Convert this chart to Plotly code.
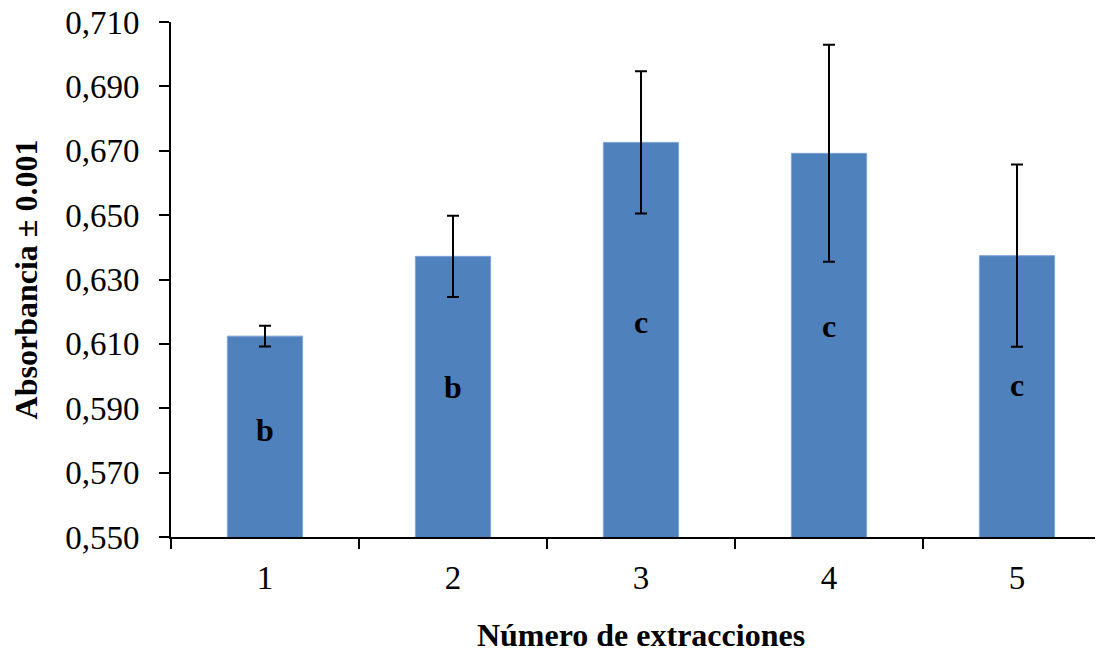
import plotly.graph_objects as go

categories = ["1", "2", "3", "4", "5"]
absorbance = [0.6124, 0.6372, 0.6726, 0.6692, 0.6374]
errors = [0.0032, 0.0126, 0.0221, 0.0337, 0.0283]
letters = ["b", "b", "c", "c", "c"]
letter_y = [0.5833, 0.5966, 0.6168, 0.6156, 0.5972]

xpos = list(range(len(categories)))

fig = go.Figure()
fig.add_trace(go.Bar(
    x=xpos, y=absorbance, width=0.4,
    marker=dict(color="#4F81BD", line=dict(color="#7FA3D6", width=1)),
    error_y=dict(type="data", array=errors, visible=True, color="black",
                 thickness=2, width=6),
    showlegend=False,
))

serif = "Liberation Serif"
for x, y, t in zip(xpos, letter_y, letters):
    fig.add_annotation(x=x, y=y, text=f"<b>{t}</b>", showarrow=False,
                       font=dict(family=serif, size=32, color="black"),
                       xref="x", yref="y")

fig.update_layout(
    width=1103, height=662,
    margin=dict(l=163, r=0, t=14, b=133),
    plot_bgcolor="white", paper_bgcolor="white",
    separators=", ",
    font=dict(family=serif, color="black"),
    xaxis=dict(
        range=[-0.5, 4.5], automargin=False,
        tickmode="array", tickvals=xpos, ticktext=categories,
        ticks="outside", ticklen=0, ticklabelstandoff=10,
        ticklabeloverflow="allow",
        tickfont=dict(family=serif, size=33),
        showline=True, linecolor="black", linewidth=2,
        showgrid=False, zeroline=False,
        minor=dict(ticks="outside", ticklen=10, tickwidth=2, tickcolor="black",
                   tick0=0.5, dtick=1, showgrid=False),
        title=dict(text="<b>Número de extracciones</b>",
                   font=dict(family=serif, size=32), standoff=29),
    ),
    yaxis=dict(
        range=[0.55, 0.71], automargin=False,
        tickmode="linear", tick0=0.55, dtick=0.02, tickformat=".3f",
        ticks="outside", ticklen=10, tickwidth=2, tickcolor="black",
        ticklabelstandoff=13, ticklabeloverflow="allow",
        tickfont=dict(family=serif, size=33),
        showline=True, linecolor="black", linewidth=2,
        showgrid=False, zeroline=False,
        title=dict(text="<b>Absorbancia ± 0.001</b>",
                   font=dict(family=serif, size=32), standoff=19),
    ),
)

fig.write_html("out.html")
